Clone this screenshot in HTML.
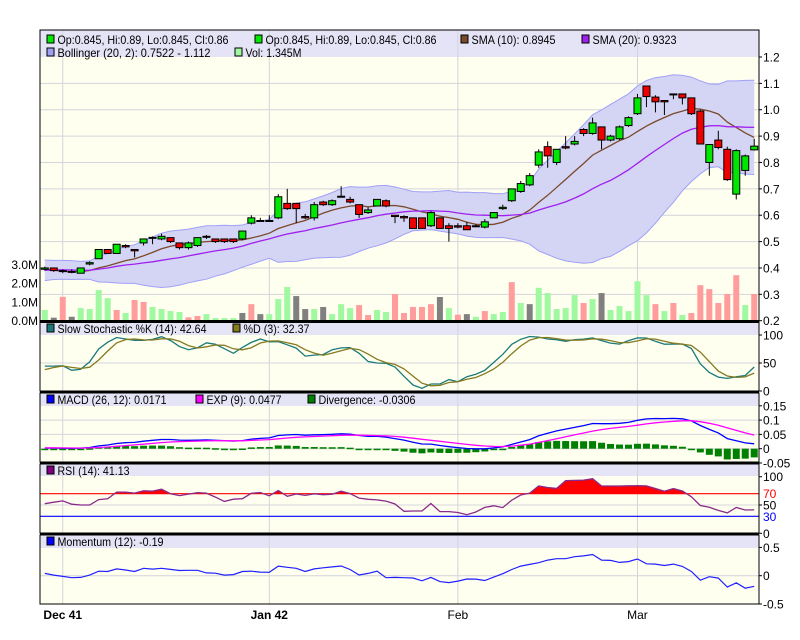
<!DOCTYPE html>
<html><head><meta charset="utf-8"><style>
html,body{margin:0;padding:0;background:#fff;}
svg{display:block;font-family:"Liberation Sans",sans-serif;}
</style></head><body>
<svg id="chart" width="800" height="640" viewBox="0 0 800 640" xmlns="http://www.w3.org/2000/svg"></svg>
<script>
// ---- data ----
const dateLabels = ["Dec 41","Jan 42","Feb","Mar"];
const dateIdx = [2,25,46,66];
const opens = [.395,.40,.39,.387,.38,.415,.435,.47,.455,.485,.47,.495,.515,.51,.515,.495,.477,.485,.52,.51,.51,.51,.51,.57,.58,.58,.59,.645,.645,.595,.59,.65,.64,.672,.66,.64,.61,.635,.655,.60,.595,.59,.59,.56,.59,.56,.56,.56,.56,.555,.59,.625,.655,.69,.715,.79,.86,.80,.86,.87,.925,.91,.935,.885,.89,.94,.985,1.09,1.048,1.035,1.06,1.06,1.045,.995,.80,.885,.85,.68,.77,.848];
const closes = [.40,.39,.388,.385,.40,.42,.47,.455,.49,.48,.465,.51,.516,.52,.50,.477,.495,.515,.52,.50,.50,.50,.54,.59,.58,.58,.67,.625,.625,.59,.64,.64,.655,.672,.65,.603,.62,.66,.635,.595,.59,.55,.55,.61,.55,.55,.555,.545,.56,.575,.61,.63,.70,.72,.75,.84,.825,.85,.855,.88,.91,.95,.885,.90,.935,.97,1.045,1.05,1.03,1.03,1.06,1.045,.985,.87,.868,.857,.735,.845,.825,.862];
const highs = [.405,.40,.395,.395,.40,.425,.47,.47,.49,.49,.47,.51,.52,.53,.515,.495,.50,.515,.525,.51,.51,.51,.54,.60,.59,.60,.68,.70,.645,.605,.65,.655,.66,.71,.67,.64,.63,.66,.66,.60,.60,.59,.59,.615,.59,.57,.57,.575,.565,.585,.61,.64,.70,.73,.76,.85,.88,.85,.90,.90,.93,.97,.935,.905,.94,.975,1.06,1.09,1.055,1.035,1.06,1.06,1.045,1.00,.87,.92,.86,.85,.83,.89];
const lows = [.39,.385,.38,.38,.38,.41,.435,.455,.455,.475,.44,.485,.49,.505,.495,.47,.47,.48,.51,.495,.495,.495,.505,.565,.58,.58,.585,.62,.57,.585,.58,.635,.635,.67,.645,.59,.605,.635,.63,.57,.575,.55,.55,.555,.55,.50,.55,.545,.555,.55,.59,.62,.65,.685,.71,.78,.78,.79,.85,.865,.90,.905,.85,.88,.885,.935,.98,1.01,.99,.98,1.04,1.02,.98,.87,.75,.85,.73,.66,.75,.845];
const volumes = [.57,.16,1.27,.21,.67,.62,1.63,1.2,.57,.41,1.1,1.0,.73,.62,.51,.46,.18,.25,.35,.14,.14,.14,.41,.88,.35,.35,1.15,1.79,1.31,.62,.62,.73,.35,.88,.67,.83,.30,.57,.46,1.42,.41,.73,.73,.88,1.26,.67,.32,.35,.21,.51,.35,.46,2.05,.94,.88,1.75,1.47,.62,.67,1.36,.94,1.15,1.47,.57,.78,.51,2.1,1.36,.88,.51,.94,.30,.41,1.89,1.68,.94,1.42,2.42,.83,1.42];
const volDir = "gxrxggggrgrrggggrrggggxrxgggxxgxgggrrggrrrrrxgrxgrggrgxgggggrgxgggggrgrgrrrrrrgrg";
const histCloses = [.37,.35,.36,.38,.41,.43,.42,.40,.37,.35,.34,.36,.38,.40,.42,.41,.39,.37,.36,.38,.40,.42,.43,.41,.39,.38,.37,.38,.39,.38];
const priceTicks = [1.2,1.1,1.0,0.9,0.8,0.7,0.6,0.5,0.4,0.3,0.2];
const volTicks = [0,1,2,3];
const stochTicks = [100,50,0];
const macdTicks = [0.15,0.1,0.05,0,-0.05];
const rsiTicks = [100,50,0];
const momTicks = [0.5,0,-0.5];
</script>
<script>
const svg = document.getElementById('chart');
const NS = 'http://www.w3.org/2000/svg';
function mk(tag, attrs, parent){const e=document.createElementNS(NS,tag);for(const k in attrs)e.setAttribute(k,attrs[k]);(parent||svg).appendChild(e);return e;}
const L=40,R=759;
const N=closes.length;
const xS=i=>44.8+i*8.98;
const pY=p=>57+(1.2-p)*263.7;
const vY=v=>320.7-v*18.8;
const sY=v=>391-v*0.56;
const mY=v=>448.7-v*286;
const rY=v=>533.3-v*0.566;
const moY=v=>575.7-v*56.6;

// ---- indicator computation ----
const allC=histCloses.concat(closes);
const allH=histCloses.map(c=>c+0.01).concat(highs);
const allLo=histCloses.map(c=>c-0.01).concat(lows);
const H0=histCloses.length;
function sma(arr,n,i){let s=0,c=0;for(let k=Math.max(0,i-n+1);k<=i;k++){s+=arr[k];c++;}return s/c;}
function sd(arr,n,i){const m=sma(arr,n,i);let s=0,c=0;for(let k=Math.max(0,i-n+1);k<=i;k++){s+=(arr[k]-m)**2;c++;}return Math.sqrt(s/c);}
function ema(arr,n){const a=2/(n+1);const o=[arr[0]];for(let i=1;i<arr.length;i++)o.push(a*arr[i]+(1-a)*o[i-1]);return o;}
const sma10=[],sma20=[],bbU=[],bbL=[];
for(let i=0;i<N;i++){const j=i+H0;sma10.push(sma(allC,10,j));const m=sma(allC,20,j),s=sd(allC,20,j);sma20.push(m);bbU.push(m+2*s);bbL.push(m-2*s);}
const fastK=allC.map((c,j)=>{let hh=-1e9,ll=1e9;for(let k=Math.max(0,j-13);k<=j;k++){hh=Math.max(hh,allH[k]);ll=Math.min(ll,allLo[k]);}return hh>ll?100*(c-ll)/(hh-ll):50;});
const slowK=fastK.map((v,j)=>sma(fastK,3,j));
const slowD=slowK.map((v,j)=>sma(slowK,3,j));
const e12=ema(allC,12),e26=ema(allC,26);
const macd=allC.map((c,j)=>e12[j]-e26[j]);
const sig=ema(macd,9);
const gains=[0],loss=[0];for(let j=1;j<allC.length;j++){const d=allC[j]-allC[j-1];gains.push(Math.max(d,0));loss.push(Math.max(-d,0));}
const rsi=allC.map((c,j)=>{const ag=sma(gains,14,j),al=sma(loss,14,j);return al===0?100:100-100/(1+ag/al);});
const mom=allC.map((c,j)=>j>=12?c-allC[j-12]:0);
const tail=a=>a.slice(H0);

// ---- panels ----
const panels=[
 {name:'price-panel',top:30,bot:321,band:57},
 {name:'stochastic-panel',top:322,bot:391,band:335},
 {name:'macd-panel',top:393,bot:462,band:406},
 {name:'rsi-panel',top:464,bot:533,band:476},
 {name:'momentum-panel',top:535,bot:604,band:548}
];
panels.forEach(p=>{
 const r=mk('rect',{x:L,y:p.top,width:R-L,height:p.bot-p.top,fill:'#fffff0'});
 
 
 const b=mk('rect',{x:L,y:p.top,width:R-L,height:p.band-p.top,fill:'#e4e4f6'});
 
 
});
dateIdx.forEach((di,k)=>{
 const x=xS(di);
 panels.forEach(p=>{const g=mk('line',{x1:x,x2:x,y1:p.top,y2:p.bot,stroke:'#d4d4dc','stroke-width':1});
 
 });
 const t=mk('text',{x:x,y:619,'font-size':12,'text-anchor':'middle','font-weight':k<2?'bold':'normal',fill:'#000'});
 t.textContent=dateLabels[k];
 
 
});
function hgrid(ticks,fy,top,fmt,col){ticks.forEach(v=>{const y=fy(v);
 if(y>top+1){const g=mk('line',{x1:L,x2:R,y1:y,y2:y,stroke:'#d4d4dc','stroke-width':1});
 
 }
 mk('line',{x1:R,x2:R+3,y1:y,y2:y,stroke:'#000'});
 const t=mk('text',{x:R+4,y:y+4.5,'font-size':12,fill:col||'#000'});t.textContent=fmt?fmt(v):String(v);
 
 });}
hgrid(priceTicks,pY,57,v=>v.toFixed(1));
hgrid(stochTicks,sY,335);
hgrid(macdTicks,mY,406,v=>v<0?'-0.05':String(v));
hgrid(rsiTicks,rY,476);
hgrid(momTicks,moY,548,v=>v<0?'-0.5':String(v));
volTicks.forEach(v=>{const t=mk('text',{x:38,y:vY(v)+4.5,'font-size':12,'text-anchor':'end'});t.textContent=v.toFixed(1)+'M';
 
 });

function pts(arr,fy){return arr.map((v,i)=>xS(i).toFixed(1)+','+fy(v).toFixed(1)).join(' ');}
const bb=mk('polygon',{points:pts(bbU,pY)+' '+pts(bbL,pY).split(' ').reverse().join(' '),fill:'#d4d4f4',stroke:'none'});


[bbU,bbL].forEach(a=>{const l=mk('polyline',{points:pts(a,pY),fill:'none',stroke:'#a0a0f8','stroke-width':1});
 
 });
volumes.forEach((v,i)=>{const c=volDir[i]==='g'?'#a0f8a0':volDir[i]==='r'?'#ff9c9c':'#808080';
 const r=mk('rect',{x:xS(i)-3,y:vY(v),width:6,height:vY(0)-vY(v),fill:c});
 
 });
const s10=mk('polyline',{points:pts(sma10,pY),fill:'none',stroke:'#7a4a2a','stroke-width':1.3});


const s20=mk('polyline',{points:pts(sma20,pY),fill:'none',stroke:'#a020f0','stroke-width':1.3});


closes.forEach((c,i)=>{const o=opens[i],x=xS(i);
 const w=mk('line',{x1:x,x2:x,y1:pY(highs[i]),y2:pY(lows[i]),stroke:'#000','stroke-width':1});
 
 
 const t=pY(Math.max(o,c)),b=pY(Math.min(o,c));
 const r=mk('rect',{x:x-3.5,y:t,width:7,height:Math.max(b-t,1),fill:c>o?'#00e800':c<o?'#ee0000':'#000',stroke:'#000','stroke-width':1});
 
 });
const sk=mk('polyline',{points:pts(tail(slowK),sY),fill:'none',stroke:'#1a7a7a','stroke-width':1.3});


const sdl=mk('polyline',{points:pts(tail(slowD),sY),fill:'none',stroke:'#857a20','stroke-width':1.3});


const mt=tail(macd),st=tail(sig);
mt.forEach((m,i)=>{const d=m-st[i];const y1=mY(Math.max(d,0)),y2=mY(Math.min(d,0));
 const r=mk('rect',{x:xS(i)-3.5,y:y1,width:7,height:Math.max(y2-y1,1.5),fill:'#008000'});
 
 });
const ml=mk('polyline',{points:pts(mt,mY),fill:'none',stroke:'#0000ff','stroke-width':1.3});


const el=mk('polyline',{points:pts(st,mY),fill:'none',stroke:'#ff00ff','stroke-width':1.3});


const rt=tail(rsi);
const cp=mk('clipPath',{id:'rsiclip'});mk('rect',{x:L,y:476,width:R-L,height:rY(70)-476},cp);
const rf=mk('polygon',{points:xS(0)+','+rY(70)+' '+pts(rt,rY)+' '+xS(N-1)+','+rY(70),fill:'#ff0000','clip-path':'url(#rsiclip)'});


[[70,'#ff0000','rsi-70-line'],[30,'#0000ff','rsi-30-line']].forEach(a=>{const l=mk('line',{x1:L,x2:R,y1:rY(a[0]),y2:rY(a[0]),stroke:a[1],'stroke-width':1.2});
 
 
 const t=mk('text',{x:R+4,y:rY(a[0])+4.5,'font-size':12,fill:a[1]});t.textContent=String(a[0]);
 
 });
const rl=mk('polyline',{points:pts(rt,rY),fill:'none',stroke:'#8a2a8a','stroke-width':1.3});


const mo=mk('polyline',{points:pts(tail(mom),moY),fill:'none',stroke:'#2020ff','stroke-width':1.2});



panels.forEach(p=>{const f=mk('rect',{x:L,y:p.top,width:R-L,height:p.bot-p.top,fill:'none',stroke:'#000','stroke-width':1});
 
 });
[321.5,392,463,534].forEach(y=>{const l=mk('line',{x1:L,x2:R,y1:y,y2:y,stroke:'#000','stroke-width':3});
 
 });

const legends=[
 [47,44,'#00e800','Op:0.845, Hi:0.89, Lo:0.845, Cl:0.86',171,'legend-ohlc'],
 [255,44,'#00e800','Op:0.845, Hi:0.89, Lo:0.845, Cl:0.86',171,'legend-ohlc-2'],
 [461,44,'#7a4a2a','SMA (10): 0.8945',84,'legend-sma10'],
 [582,44,'#a020f0','SMA (20): 0.9323',84,'legend-sma20'],
 [47,57,'#a0a0f0','Bollinger (20, 2): 0.7522 - 1.112',153,'legend-bollinger'],
 [235,57,'#a0f8a0','Vol: 1.345M',56,'legend-volume'],
 [47,333,'#1a7a7a','Slow Stochastic %K (14): 42.64',149,'legend-stoch-k'],
 [233,333,'#857a20','%D (3): 32.37',66,'legend-stoch-d'],
 [47,404,'#0000ff','MACD (26, 12): 0.0171',109,'legend-macd'],
 [196,404,'#ff00ff','EXP (9): 0.0477',75,'legend-exp'],
 [308,404,'#008000','Divergence: -0.0306',97,'legend-divergence'],
 [47,475,'#800080','RSI (14): 41.13',72,'legend-rsi'],
 [47,546,'#0000ff','Momentum (12): -0.19',106,'legend-momentum']
];
legends.forEach(l=>{const g=mk('g',{});
 
 
 mk('rect',{x:l[0],y:l[1]-9,width:7,height:8,fill:l[2],stroke:'#000','stroke-width':1},g);
 const t=mk('text',{x:l[0]+10.5,y:l[1],'font-size':12,textLength:l[4],lengthAdjust:'spacingAndGlyphs'},g);t.textContent=l[3];});
</script>
</body></html>
